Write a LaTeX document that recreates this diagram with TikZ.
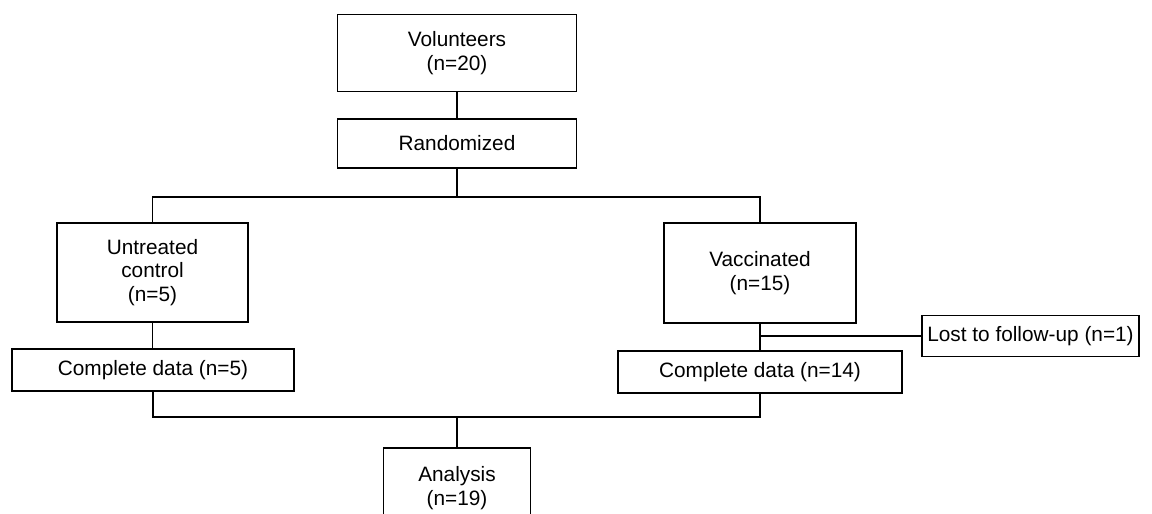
\documentclass[tikz,border=0pt]{standalone}
\usepackage{fontspec}
\setmainfont{Liberation Sans}
\usetikzlibrary{calc}
\usetikzlibrary{positioning}

\begin{document}
\begin{tikzpicture}[x=1pt,y=-1pt,
    box/.style={draw,line width=1.8pt,align=center,inner sep=0pt,
      font=\fontsize{20.8}{23.5}\selectfont},
    link/.style={line width=1.8pt}]
    \useasboundingbox (0,0) rectangle (1152,514);
    \clip (0,0) rectangle (1152,514);
    \node[box,minimum width=239,minimum height=77] (V) at (457,53) {Volunteers\\(n=20)};
    \node[box,minimum width=239,minimum height=49] (R) at (457,143.5) {Randomized};
    \node[box,minimum width=191,minimum height=99] (C) at (152.5,272.5) {Untreated\\control\\(n=5)};
    \node[box,minimum width=192,minimum height=100] (T) at (760,273) {Vaccinated\\(n=15)};
    \node[box,minimum width=282,minimum height=42] (D1) at (153,370) {Complete data (n=5)};
    \node[box,minimum width=284,minimum height=42] (D2) at (760,372) {Complete data (n=14)};
    \node[box,minimum width=217,minimum height=41] (L) at (1030.5,336) {Lost to follow-up (n=1)};
    \node[box,minimum width=147,minimum height=80] (A) at (457,488) {Analysis\\(n=19)};
    \coordinate (S) at (457,197);
    \coordinate (M) at (457,417);
    \coordinate (K) at (T.south |- L.west);
    \draw[link] (V) -- (R);
    \draw[link] (R) -- (S);
    \draw[link] (C.north) |- (S) -| (T.north);
    \draw[link] (C.south) -- (C.south |- D1.north);
    \draw[link] (T) -- (D2);
    \draw[link] (K) -- (L);
    \draw[link] (D1.south) |- (M) -| (D2.south);
    \draw[link] (M) -- (A);
\end{tikzpicture}
\end{document}
